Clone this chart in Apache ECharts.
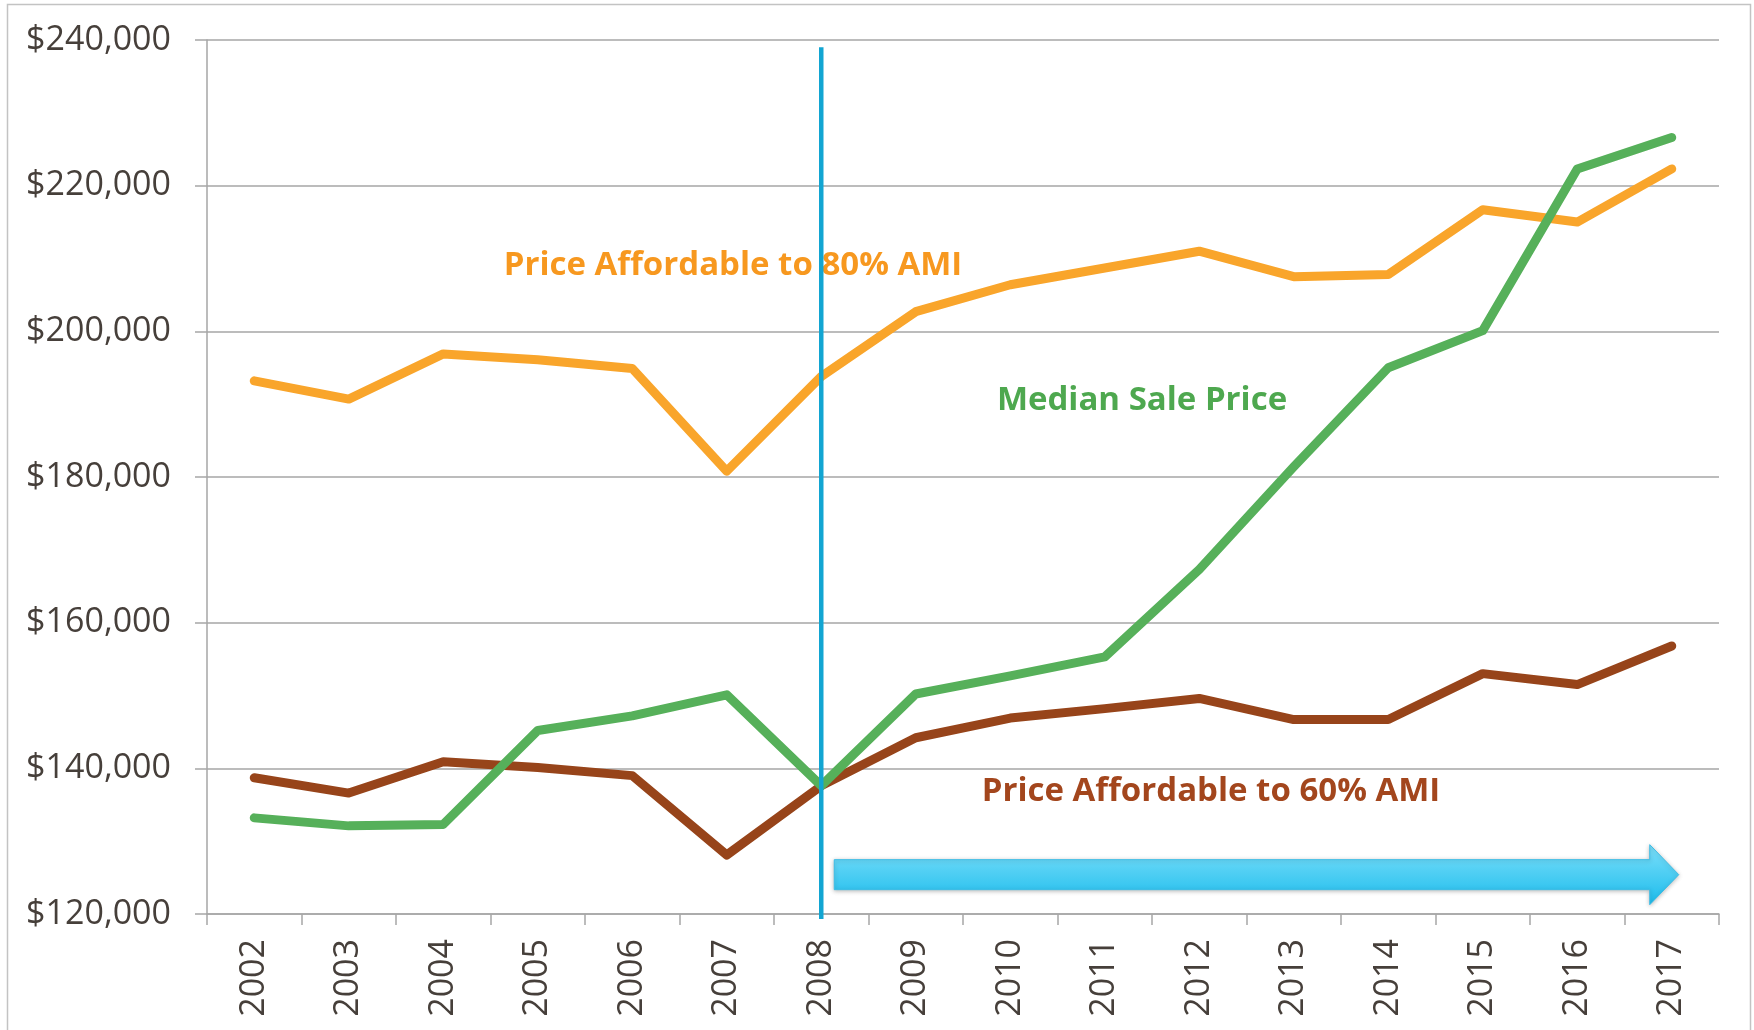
<!DOCTYPE html>
<html>
<head>
<meta charset="utf-8">
<title>Median sale price vs affordable price</title>
<script src="https://cdn.jsdelivr.net/npm/echarts@6/dist/echarts.min.js"></script>
<style>
  html, body { margin: 0; padding: 0; background: #fff; }
  #chart { width: 1754px; height: 1030px; }
</style>
</head>
<body>
<div id="chart"></div>
<script>
const years = ["2002", "2003", "2004", "2005", "2006", "2007", "2008", "2009",
  "2010", "2011", "2012", "2013", "2014", "2015", "2016", "2017"];

// Price Affordable to 80% AMI
const ami80 = [193200, 190700, 196900, 196100, 194900, 180800, 193800, 202700,
  206400, 208700, 211000, 207500, 207800, 216700, 215000, 222300];

// Price Affordable to 60% AMI
const ami60 = [138700, 136600, 140900, 140100, 139000, 128100, 137600, 144200,
  146900, 148200, 149600, 146700, 146700, 153000, 151500, 156800];

// Median Sale Price
const medianPrice = [133200, 132100, 132300, 145200, 147200, 150100, 137600, 150200,
  152700, 155300, 167300, 181400, 195000, 200100, 222300, 226600];

const yTicks = [120000, 140000, 160000, 180000, 200000, 220000, 240000];

const labelColor = "#463f3a";
const gridColor = "#a6a6a6";
const font = "'Open Sans', sans-serif";

const chart = echarts.init(document.getElementById("chart"));

const lineSeries = (name, data, color) => ({
  name: name,
  type: "line",
  data: data,
  symbol: "none",
  lineStyle: { color: color, width: 9, cap: "round", join: "round" },
  itemStyle: { color: color },
  animation: false,
});

chart.setOption({
  animation: false,
  backgroundColor: "#fff",
  grid: { left: 207, right: 35, top: 40, bottom: 116 },
  xAxis: {
    type: "category",
    data: years,
    boundaryGap: true,
    axisLine: { lineStyle: { color: gridColor, width: 1.5 } },
    axisTick: { show: true, length: 11, lineStyle: { color: gridColor, width: 1.5 } },
    axisLabel: {
      rotate: 90,
      margin: 25,
      color: labelColor,
      fontFamily: font,
      fontSize: 34,
    },
  },
  yAxis: {
    type: "value",
    min: yTicks[0],
    max: yTicks[yTicks.length - 1],
    interval: 20000,
    axisLine: { show: true, lineStyle: { color: gridColor, width: 1.5 } },
    axisTick: { show: true, length: 12, lineStyle: { color: gridColor, width: 1.5 } },
    splitLine: { lineStyle: { color: gridColor, width: 1.5 } },
    axisLabel: {
      margin: 36,
      color: labelColor,
      fontFamily: font,
      fontSize: 34,
      formatter: (v) => "$" + v.toLocaleString("en-US"),
    },
  },
  series: [
    lineSeries("Price Affordable to 80% AMI", ami80, "#f9a52b"),
    lineSeries("Price Affordable to 60% AMI", ami60, "#97441a"),
    lineSeries("Median Sale Price", medianPrice, "#56b05a"),
  ],
});

// annotations: labels, the 2008 marker line and the arrow
const xPix = (cat) => chart.convertToPixel({ xAxisIndex: 0 }, cat);
const yPix = (val) => chart.convertToPixel({ yAxisIndex: 0 }, val);

const markX = xPix("2008");
const lineTop = yPix(239000);
const lineBottom = yPix(119300);

const arrowLeft = markX + 13;
const arrowTip = xPix("2017") + 7;
const arrowMid = yPix(125400);
const headBase = arrowTip - 29;
const shaftHalf = 15;
const headHalf = 30;

const textStyle = (text, color) => ({
  text: text,
  fill: color,
  fontFamily: font,
  fontWeight: "bold",
  fontSize: 33,
  textAlign: "center",
  textVerticalAlign: "middle",
});

chart.setOption({
  graphic: [
    {
      type: "rect",
      z: 1,
      silent: true,
      shape: { x: 7.5, y: 4.5, width: 1743, height: 1040 },
      style: { fill: "none", stroke: "#c3c3c3", lineWidth: 1.5 },
    },
    { type: "text", z: 20, x: 733, y: 266, style: textStyle("Price Affordable to 80% AMI", "#f7981f") },
    { type: "text", z: 20, x: 1142, y: 401, style: textStyle("Median Sale Price", "#4ea84f") },
    { type: "text", z: 20, x: 1211, y: 792, style: textStyle("Price Affordable to 60% AMI", "#a3461d") },
    {
      type: "line",
      z: 30,
      shape: { x1: markX, y1: lineTop, x2: markX, y2: lineBottom },
      style: { stroke: "#12a5d2", lineWidth: 4.5 },
    },
    {
      type: "polygon",
      z: 30,
      shape: {
        points: [
          [arrowLeft, arrowMid - shaftHalf],
          [headBase, arrowMid - shaftHalf],
          [headBase, arrowMid - headHalf],
          [arrowTip, arrowMid],
          [headBase, arrowMid + headHalf],
          [headBase, arrowMid + shaftHalf],
          [arrowLeft, arrowMid + shaftHalf],
        ],
      },
      style: {
        fill: new echarts.graphic.LinearGradient(0, 0, 0, 1, [
          { offset: 0, color: "#7ddffa" },
          { offset: 1, color: "#1bbcec" },
        ]),
        stroke: "#3cbde6",
        lineWidth: 1,
        shadowBlur: 4,
        shadowColor: "rgba(0,0,0,0.25)",
        shadowOffsetY: 1,
      },
    },
  ],
});
</script>
</body>
</html>
